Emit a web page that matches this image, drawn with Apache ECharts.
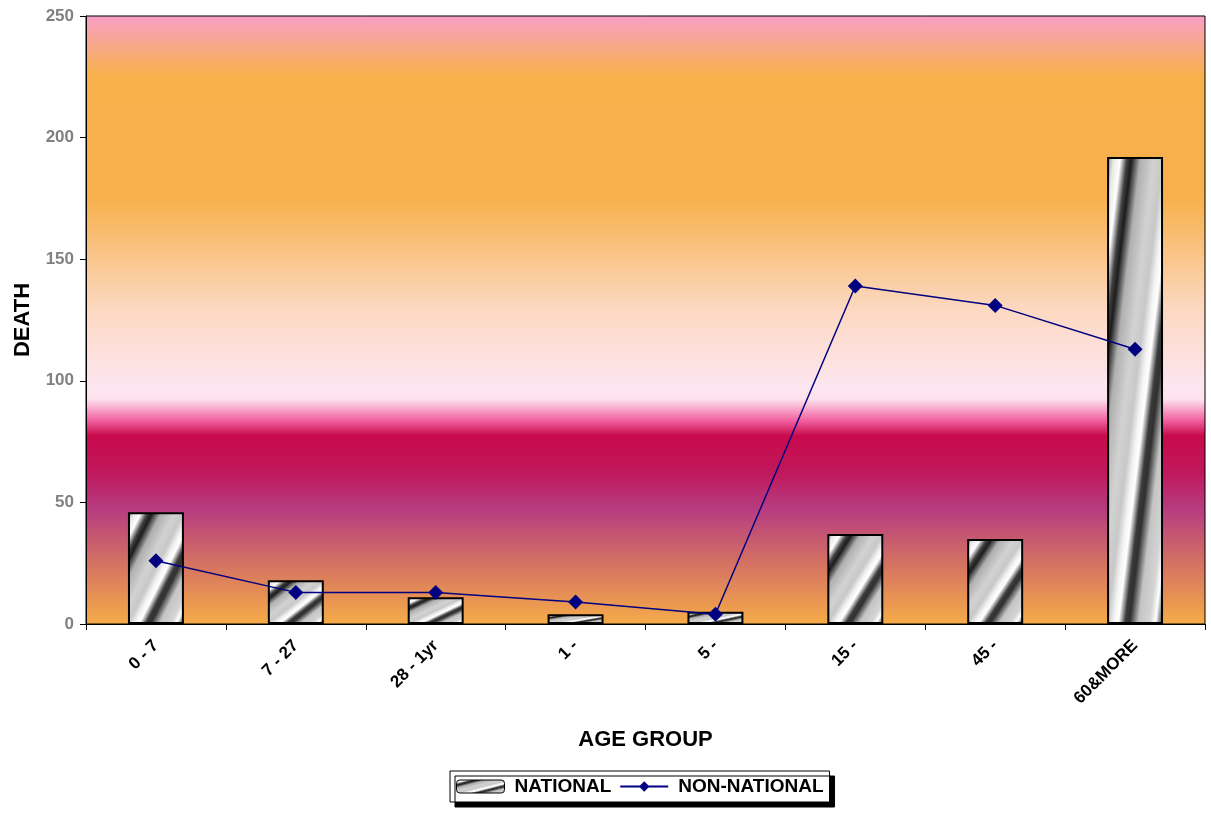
<!DOCTYPE html>
<html><head><meta charset="utf-8">
<script src="https://cdn.jsdelivr.net/npm/echarts@6/dist/echarts.min.js"></script>
<style>html,body{margin:0;padding:0;background:#fff}#c{width:1211px;height:817px}</style>
</head><body><div id="c"></div>
<script>
const categories = ['0 - 7', '7 - 27', '28 - 1yr', '1 -', '5 -', '15 -', '45 -', '60&MORE'];
const national = [46, 18, 11, 4, 5, 37, 35, 192];
const nonNational = [26, 13, 13, 9, 4, 139, 131, 113];
const yTicks = [0, 50, 100, 150, 200, 250];

const FONT = 'Liberation Sans, Arial, sans-serif';
const metalStops = [
  [0, '#8a8a8a'], [0.06, '#e8e8e8'], [0.12, '#ffffff'], [0.18, '#404040'], [0.22, '#1c1c1c'],
  [0.3, '#b0b0b0'], [0.42, '#d2d2d2'], [0.5, '#c8c8c8'], [0.56, '#f4f4f4'], [0.6, '#ffffff'],
  [0.66, '#3a3a3a'], [0.7, '#303030'], [0.78, '#c4c4c4'], [0.88, '#d4d4d4'], [0.93, '#ffffff'],
  [1, '#202020']
];
function metal(w, h) {
  const d = w * w + h * h;
  return new echarts.graphic.LinearGradient(0, 0, 2 * h * h / d, 2 * w * w / d,
    metalStops.map(s => ({offset: s[0], color: s[1]})));
}

const bg = new echarts.graphic.LinearGradient(0, 0, 0, 1, [
  {offset: 0, color: '#f99fc6'},
  {offset: 0.1, color: '#f7b04a'},
  {offset: 0.3, color: '#f7b04c'},
  {offset: 0.48, color: '#fcd8c0'},
  {offset: 0.61, color: '#fde6f0'},
  {offset: 0.63, color: '#fde2ee'},
  {offset: 0.665, color: '#f260a0'},
  {offset: 0.69, color: '#c80a4c'},
  {offset: 0.75, color: '#c0185c'},
  {offset: 0.81, color: '#b63c80'},
  {offset: 0.9, color: '#d47262'},
  {offset: 1, color: '#f6ac48'}
]);

const chart = echarts.init(document.getElementById('c'), null, {renderer: 'canvas'});
const option = {
  animation: false,
  textStyle: {fontFamily: FONT},
  grid: {left: 86, right: 6, top: 16, bottom: 193, show: true, backgroundColor: bg,
         borderColor: '#000', borderWidth: 1, containLabel: false, outerBoundsMode: 'none'},
  legend: {
    left: 450, top: 771,
    padding: [6, 6, 6, 6], itemGap: 8, itemWidth: 48, itemHeight: 13,
    backgroundColor: '#fff', borderColor: '#000', borderWidth: 1,
    shadowColor: '#000', shadowBlur: 0, shadowOffsetX: 5, shadowOffsetY: 5,
    textStyle: {fontFamily: FONT, fontWeight: 'bold', fontSize: 19, color: '#000', padding: [0, 0, 0, 5]},
    data: [
      {name: 'NATIONAL', itemStyle: {color: metal(48, 13), borderColor: '#000', borderWidth: 1}},
      {name: 'NON-NATIONAL'}
    ]
  },
  xAxis: {
    type: 'category', data: categories,
    name: 'AGE GROUP', nameLocation: 'middle', nameGap: 105,
    nameTextStyle: {fontFamily: FONT, fontWeight: 'bold', fontSize: 22, color: '#000'},
    axisLine: {lineStyle: {color: '#000', width: 1}},
    axisTick: {show: true, length: 6, lineStyle: {color: '#000'}},
    axisLabel: {rotate: 45, margin: 19, fontFamily: FONT, fontWeight: 'bold', fontSize: 17, color: '#000'}
  },
  yAxis: {
    type: 'value', min: yTicks[0], max: yTicks[yTicks.length - 1], interval: 50,
    name: 'DEATH', nameLocation: 'middle', nameGap: 52, nameRotate: 90,
    nameTextStyle: {fontFamily: FONT, fontWeight: 'bold', fontSize: 22, color: '#000'},
    axisLine: {show: true, lineStyle: {color: '#000', width: 1}},
    axisTick: {show: true, length: 6, lineStyle: {color: '#000'}},
    splitLine: {show: false},
    axisLabel: {margin: 12, fontFamily: FONT, fontWeight: 'bold', fontSize: 17, color: '#808080'}
  },
  series: [
    {
      name: 'NATIONAL', type: 'bar', barWidth: '40%',
      itemStyle: {color: metal(48, 13), borderColor: '#000', borderWidth: 2},
      data: national, z: 2
    },
    {
      name: 'NON-NATIONAL', type: 'line', data: nonNational,
      symbol: 'diamond', symbolSize: 15,
      lineStyle: {color: '#000080', width: 1.5},
      itemStyle: {color: '#000080'}, z: 3
    }
  ]
};
chart.setOption(option);

// per-bar metallic gradient stretched to each bar's own size
const a = chart.convertToPixel({seriesIndex: 0}, [0, 0]);
const b = chart.convertToPixel({seriesIndex: 0}, [1, 0]);
const barW = (b[0] - a[0]) * 0.4;
chart.setOption({
  series: [{
    name: 'NATIONAL',
    data: national.map((v, i) => {
      const p = chart.convertToPixel({seriesIndex: 0}, [i, v]);
      const h = Math.max(1, a[1] - p[1]);
      return {value: v, itemStyle: {color: metal(barW, h)}};
    })
  }]
});
</script>
</body></html>
